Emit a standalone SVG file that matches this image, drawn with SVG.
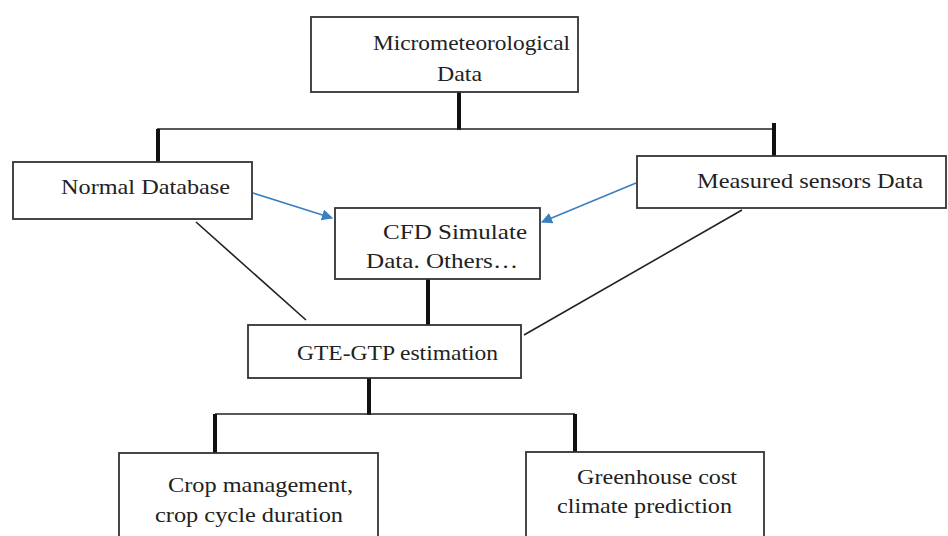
<svg xmlns="http://www.w3.org/2000/svg" width="948" height="536" viewBox="0 0 948 536">
<style>
.box{fill:#fff;stroke:#333;stroke-width:1.8}
.t{font-family:"Liberation Serif","DejaVu Serif",serif;font-size:22px;fill:#222}
.thin{stroke:#222;stroke-width:1.6;fill:none}
.thick{stroke:#111;stroke-width:4;fill:none}
.blue{stroke:#3a7fc0;stroke-width:1.6;fill:none}
</style>
<defs>
<marker id="ah" viewBox="0 0 10 10" refX="9" refY="5" markerWidth="7" markerHeight="7" orient="auto" markerUnits="strokeWidth">
<path d="M0,0 L10,5 L0,10 z" fill="#3a7fc0"/>
</marker>
</defs>
<rect width="948" height="536" fill="#fff"/>
<g id="connectors">
<line class="thick" x1="459" y1="92" x2="459" y2="130"/>
<line class="thin" x1="157" y1="129" x2="774" y2="129"/>
<line class="thick" x1="158" y1="129" x2="158" y2="162"/>
<line class="thick" x1="774" y1="123" x2="774" y2="156"/>
<line class="blue" x1="253" y1="193" x2="332" y2="218" marker-end="url(#ah)"/>
<line class="blue" x1="636" y1="183" x2="542" y2="222" marker-end="url(#ah)"/>
<line class="thin" x1="196" y1="222" x2="306" y2="320"/>
<line class="thin" x1="742" y1="210" x2="524" y2="335"/>
<line class="thick" x1="428" y1="279" x2="428" y2="325"/>
<line class="thick" x1="369" y1="378" x2="369" y2="415"/>
<line class="thin" x1="215" y1="414" x2="575" y2="414"/>
<line class="thick" x1="215" y1="414" x2="215" y2="453"/>
<line class="thick" x1="575" y1="414" x2="575" y2="452"/>
</g>
<g id="micro">
<rect class="box" x="311" y="17" width="267" height="75"/>
<text class="t" x="373" y="50" textLength="197" lengthAdjust="spacingAndGlyphs">Micrometeorological</text>
<text class="t" x="437" y="81" textLength="45" lengthAdjust="spacingAndGlyphs">Data</text>
</g>
<g id="normal">
<rect class="box" x="13" y="162" width="239" height="57"/>
<text class="t" x="61" y="194" textLength="169" lengthAdjust="spacingAndGlyphs">Normal Database</text>
</g>
<g id="measured">
<rect class="box" x="637" y="156" width="309" height="52"/>
<text class="t" x="697" y="188" textLength="226" lengthAdjust="spacingAndGlyphs">Measured sensors Data</text>
</g>
<g id="cfd">
<rect class="box" x="335" y="208" width="205" height="71"/>
<text class="t" x="383" y="239" textLength="144" lengthAdjust="spacingAndGlyphs">CFD Simulate</text>
<text class="t" x="366" y="268" textLength="152" lengthAdjust="spacingAndGlyphs">Data. Others…</text>
</g>
<g id="gte">
<rect class="box" x="248" y="325" width="273" height="53"/>
<text class="t" x="297" y="360" textLength="201" lengthAdjust="spacingAndGlyphs">GTE-GTP estimation</text>
</g>
<g id="crop">
<rect class="box" x="119" y="453" width="259" height="90"/>
<text class="t" x="168" y="492" textLength="185" lengthAdjust="spacingAndGlyphs">Crop management,</text>
<text class="t" x="155" y="522" textLength="188" lengthAdjust="spacingAndGlyphs">crop cycle duration</text>
</g>
<g id="greenhouse">
<rect class="box" x="526" y="452" width="238" height="90"/>
<text class="t" x="577" y="484" textLength="160" lengthAdjust="spacingAndGlyphs">Greenhouse cost</text>
<text class="t" x="557" y="513" textLength="175" lengthAdjust="spacingAndGlyphs">climate prediction</text>
</g>
</svg>
